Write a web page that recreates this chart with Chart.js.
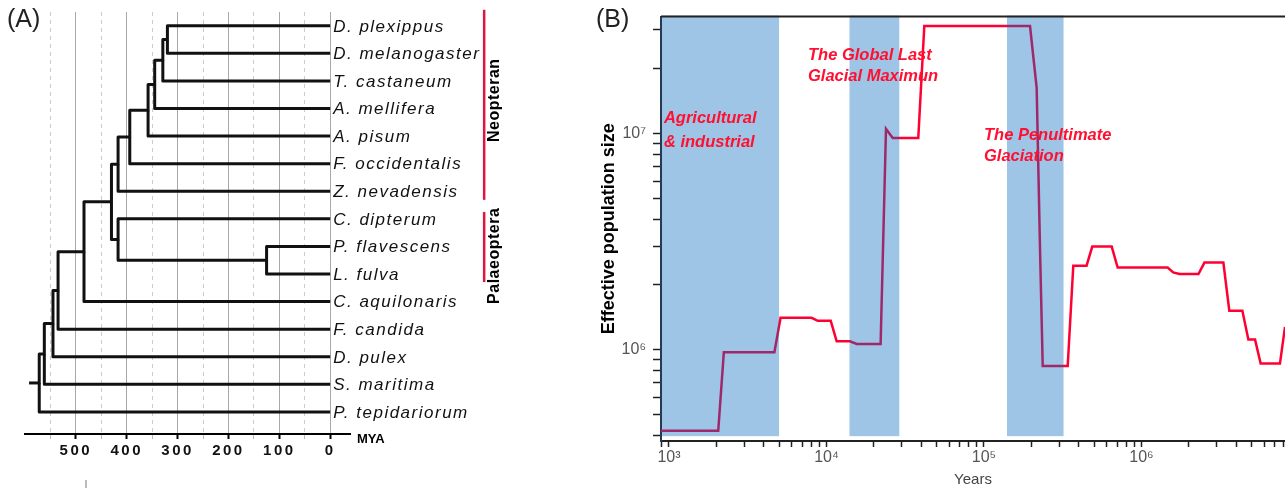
<!DOCTYPE html>
<html>
<head>
<meta charset="utf-8">
<script src="https://cdn.jsdelivr.net/npm/chart.js@4.4.1/dist/chart.umd.min.js"></script>
<style>
  html, body { margin: 0; padding: 0; background: #fff; overflow: hidden; }
  #wrapA { position: absolute; left: 0; top: 0; width: 590px; height: 489px; }
  #wrapB { position: absolute; left: 590px; top: 0; width: 695px; height: 489px; }
</style>
</head>
<body>
<div id="wrapA"><canvas id="treeChart" width="590" height="489"></canvas></div>
<div id="wrapB"><canvas id="psmcChart" width="695" height="489"></canvas></div>
<script>
// ---- panel A : species tree ----
// leaves, top to bottom (ids 0..14)
var leaves = ['D. plexippus', 'D. melanogaster', 'T. castaneum', 'A. mellifera', 'A. pisum',
  'F. occidentalis', 'Z. nevadensis', 'C. dipterum', 'P. flavescens', 'L. fulva',
  'C. aquilonaris', 'F. candida', 'D. pulex', 'S. maritima', 'P. tepidariorum'];
// internal nodes get ids 15.. in this order, ages in MYA
var nodeAges = [320, 329, 345, 358, 394, 417, 125, 417, 430, 484, 535, 545, 562, 572];
var nodeKids = [[0, 1], [15, 2], [16, 3], [17, 4], [18, 5], [19, 6], [8, 9], [7, 21],
  [20, 22], [23, 10], [24, 11], [25, 12], [26, 13], [27, 14]];
var rootStubAge = 592;
var myaTicks = [550, 500, 450, 400, 350, 300, 250, 200, 150, 100, 50, 0];
var cladeNames = ['Neopteran', 'Palaeoptera'];
var cladeFrom = [-0.58, 6.75];
var cladeTo = [6.31, 9.29];
var cladeMid = [2.7, 8.34];

// ---- panel B : PSMC ----
var years = [890, 2055, 2230, 4670, 5110, 8050, 8790, 10640, 11610, 14090, 15560, 22070,
  23870, 26330, 38270, 41800, 196000, 216000, 227000, 236000, 340000, 369000, 448000,
  487000, 647000, 706000, 1466000, 1590000, 1740000, 2300000, 2510000, 3310000, 3610000,
  4370000, 4770000, 5260000, 5710000, 7570000, 8150000];
var popSize = [4.2e5, 4.2e5, 9.7e5, 9.7e5, 1.40e6, 1.40e6, 1.355e6, 1.355e6, 1.09e6, 1.09e6,
  1.06e6, 1.06e6, 1.047e7, 9.5e6, 9.5e6, 3.13e7, 3.13e7, 1.62e7, 2.86e6, 8.38e5, 8.38e5,
  2.44e6, 2.44e6, 2.99e6, 2.99e6, 2.39e6, 2.39e6, 2.27e6, 2.23e6, 2.23e6, 2.52e6, 2.52e6,
  1.51e6, 1.51e6, 1.11e6, 1.11e6, 8.6e5, 8.6e5, 1.27e6];
var bandFrom = [890, 14000, 140000];
var bandTo = [5000, 29000, 320000];
var bandFloor = 3.97e5;
var periodNames = [['Agricultural', '& industrial'], ['The Global Last', 'Glacial Maximun'],
  ['The Penultimate', 'Glaciation']];
var periodAt = [[929, 1.17e7], [7630, 2.29e7], [100000, 9.79e6]];

var FONT = '"Liberation Sans", Arial, sans-serif';

// tree geometry
function nodeAge(id) { return id < leaves.length ? 0 : nodeAges[id - leaves.length]; }
function nodeY(id) {
  if (id < leaves.length) return id;
  var k = nodeKids[id - leaves.length];
  return (nodeY(k[0]) + nodeY(k[1])) / 2;
}
var treeSets = [];
nodeKids.forEach(function (kids, k) {
  var id = k + leaves.length;
  kids.forEach(function (c) {
    treeSets.push([
      { x: nodeAge(c), y: nodeY(c) },
      { x: nodeAges[k], y: nodeY(c) },
      { x: nodeAges[k], y: nodeY(id) }
    ]);
  });
});
var rootId = leaves.length + nodeAges.length - 1;
treeSets.push([{ x: nodeAges[nodeAges.length - 1], y: nodeY(rootId) }, { x: rootStubAge, y: nodeY(rootId) }]);

var treeDecor = {
  id: 'treeDecor',
  beforeDraw: function (chart) { chart.ctx.letterSpacing = '2.5px'; },
  beforeDatasetsDraw: function (chart) { chart.ctx.letterSpacing = '0px'; },
  afterDraw: function (chart) {
    var ctx = chart.ctx, xs = chart.scales.x, ys = chart.scales.y;
    var x0 = xs.getPixelForValue(0);
    ctx.save();
    ctx.textBaseline = 'middle';
    ctx.fillStyle = '#111';
    ctx.letterSpacing = '1.5px';
    ctx.font = 'italic 17px ' + FONT;
    leaves.forEach(function (name, i) { ctx.fillText(name, x0 + 3, ys.getPixelForValue(i) + 1); });

    ctx.letterSpacing = '0.5px';
    ctx.font = 'bold 16px ' + FONT;
    cladeNames.forEach(function (name, i) {
      var bx = x0 + 154;
      ctx.strokeStyle = '#e0143c';
      ctx.lineWidth = 2.5;
      ctx.beginPath();
      ctx.moveTo(bx, ys.getPixelForValue(cladeFrom[i]));
      ctx.lineTo(bx, ys.getPixelForValue(cladeTo[i]));
      ctx.stroke();
      ctx.save();
      ctx.translate(bx + 10, ys.getPixelForValue(cladeMid[i]));
      ctx.rotate(-Math.PI / 2);
      ctx.textAlign = 'center';
      ctx.fillStyle = '#000';
      ctx.fillText(name, 0, 0);
      ctx.restore();
    });

    ctx.letterSpacing = '0px';
    ctx.font = 'bold 13px ' + FONT;
    ctx.fillStyle = '#000';
    ctx.fillText('MYA', chart.chartArea.right + 7, 439);
    ctx.font = '25px ' + FONT;
    ctx.fillStyle = '#222';
    ctx.fillText('(A)', 7, 20);
    // stray mark under the axis, as in the source figure
    ctx.strokeStyle = '#bbbbbb';
    ctx.lineWidth = 2;
    ctx.beginPath();
    ctx.moveTo(86, 480);
    ctx.lineTo(86, 488);
    ctx.stroke();
    ctx.restore();
  }
};

new Chart(document.getElementById('treeChart'), {
  type: 'scatter',
  data: {
    datasets: treeSets.map(function (pts) {
      return { data: pts, showLine: true, borderColor: '#111', borderWidth: 3,
        borderJoinStyle: 'round', pointRadius: 0 };
    })
  },
  options: {
    responsive: false,
    animation: false,
    layout: { padding: { left: 25, right: 240, top: 12, bottom: 0 } },
    plugins: { legend: { display: false }, tooltip: { enabled: false } },
    scales: {
      x: {
        type: 'linear', reverse: true, min: -39, max: 600,
        afterBuildTicks: function (s) { s.ticks = myaTicks.map(function (v) { return { value: v }; }); },
        afterFit: function (s) { s.height = 55; },
        ticks: {
          autoSkip: false, maxRotation: 0, padding: 3, color: '#111',
          font: { family: FONT, size: 15, weight: 'bold' },
          callback: function (v) { return v % 100 === 0 ? String(v) : ''; }
        },
        grid: {
          color: function (c) { return c.tick && c.tick.value % 100 === 0 ? '#a8a8a8' : '#cccccc'; },
          lineWidth: 1,
          tickLength: 5,
          tickColor: function (c) { return c.tick && c.tick.value % 100 === 0 ? '#000' : '#bbbbbb'; },
          tickWidth: function (c) { return c.tick && c.tick.value % 100 === 0 ? 2 : 1; }
        },
        border: {
          color: '#000', width: 2,
          dash: function (c) { return c.tick && c.tick.value % 100 !== 0 ? [4, 4] : []; }
        }
      },
      y: { type: 'linear', reverse: true, min: -0.5, max: 14.8, display: false }
    }
  },
  plugins: [treeDecor]
});

// ---- panel B chart ----
function isDecade(v) { var l = Math.log10(v); return Math.abs(l - Math.round(l)) < 1e-9; }
var sup = { 3: '\u00B3', 4: '\u2074', 5: '\u2075', 6: '\u2076', 7: '\u2077' };
function decadeLabel(v) { return isDecade(v) ? '10' + sup[Math.round(Math.log10(v))] : ''; }
function logTicks(lo, hi) {
  var out = [];
  for (var e = 2; e <= 7; e++) {
    for (var m = 1; m <= 9; m++) {
      var v = m * Math.pow(10, e);
      if (v >= lo && v <= hi) out.push({ value: v });
    }
  }
  return out;
}

var psmcDecor = {
  id: 'psmcDecor',
  afterDatasetsDraw: function (chart) {
    var ctx = chart.ctx, a = chart.chartArea, xs = chart.scales.x, ys = chart.scales.y;
    ctx.save();
    ctx.fillStyle = 'rgba(4,103,191,0.39)';
    var yb = ys.getPixelForValue(bandFloor);
    for (var i = 0; i < bandFrom.length; i++) {
      var x1 = Math.max(a.left + 1, xs.getPixelForValue(bandFrom[i]));
      var x2 = xs.getPixelForValue(bandTo[i]);
      ctx.fillRect(x1, a.top - 1, x2 - x1, yb - a.top + 1);
    }
    ctx.fillStyle = '#ff1030';
    ctx.font = 'italic bold 16.5px ' + FONT;
    ctx.textBaseline = 'middle';
    periodNames.forEach(function (lines, k) {
      var px = xs.getPixelForValue(periodAt[k][0]);
      var py = ys.getPixelForValue(periodAt[k][1]);
      var step = k === 0 ? 24 : 21;
      lines.forEach(function (t, j) { ctx.fillText(t, px, py + j * step); });
    });
    ctx.strokeStyle = '#222';
    ctx.lineWidth = 2;
    ctx.beginPath();
    ctx.moveTo(a.left, a.top);
    ctx.lineTo(a.right, a.top);
    ctx.stroke();
    ctx.font = '25px ' + FONT;
    ctx.fillStyle = '#222';
    ctx.fillText('(B)', 6, 20);
    ctx.restore();
  }
};

new Chart(document.getElementById('psmcChart'), {
  type: 'scatter',
  data: {
    datasets: [{
      data: years.map(function (t, i) { return { x: t, y: popSize[i] }; }),
      showLine: true, borderColor: '#ff0033', borderWidth: 2.5, pointRadius: 0
    }]
  },
  options: {
    responsive: false,
    animation: false,
    layout: { padding: { left: 0, right: 0, top: 15, bottom: 0 } },
    plugins: { legend: { display: false }, tooltip: { enabled: false } },
    scales: {
      x: {
        type: 'logarithmic', min: 890, max: 8150000,
        afterBuildTicks: function (s) { s.ticks = logTicks(890, 8150000); },
        afterFit: function (s) { s.height = 48; },
        ticks: {
          autoSkip: false, maxRotation: 0, padding: 1, color: '#555',
          font: { family: FONT, size: 16 }, callback: decadeLabel
        },
        grid: { drawOnChartArea: false, tickLength: 6, tickColor: '#222', tickWidth: 1.5 },
        border: { color: '#222', width: 2 },
        title: { display: true, text: 'Years', color: '#444', font: { family: FONT, size: 15 },
          padding: { top: 0, bottom: 0 } }
      },
      y: {
        type: 'logarithmic', min: 3.77e5, max: 3.46e7,
        afterBuildTicks: function (s) { s.ticks = logTicks(3.77e5, 3.46e7); },
        afterFit: function (s) { s.width = 71; },
        ticks: {
          autoSkip: false, padding: 7, color: '#555',
          font: { family: FONT, size: 16 }, callback: decadeLabel
        },
        grid: { drawOnChartArea: false, tickLength: 8, tickColor: '#222', tickWidth: 1.5 },
        border: { color: '#233a55', width: 2 },
        title: { display: true, text: 'Effective population size', color: '#000',
          font: { family: FONT, size: 18, weight: 'bold' }, padding: { top: 8, bottom: 0 } }
      }
    }
  },
  plugins: [psmcDecor]
});
</script>
</body>
</html>
